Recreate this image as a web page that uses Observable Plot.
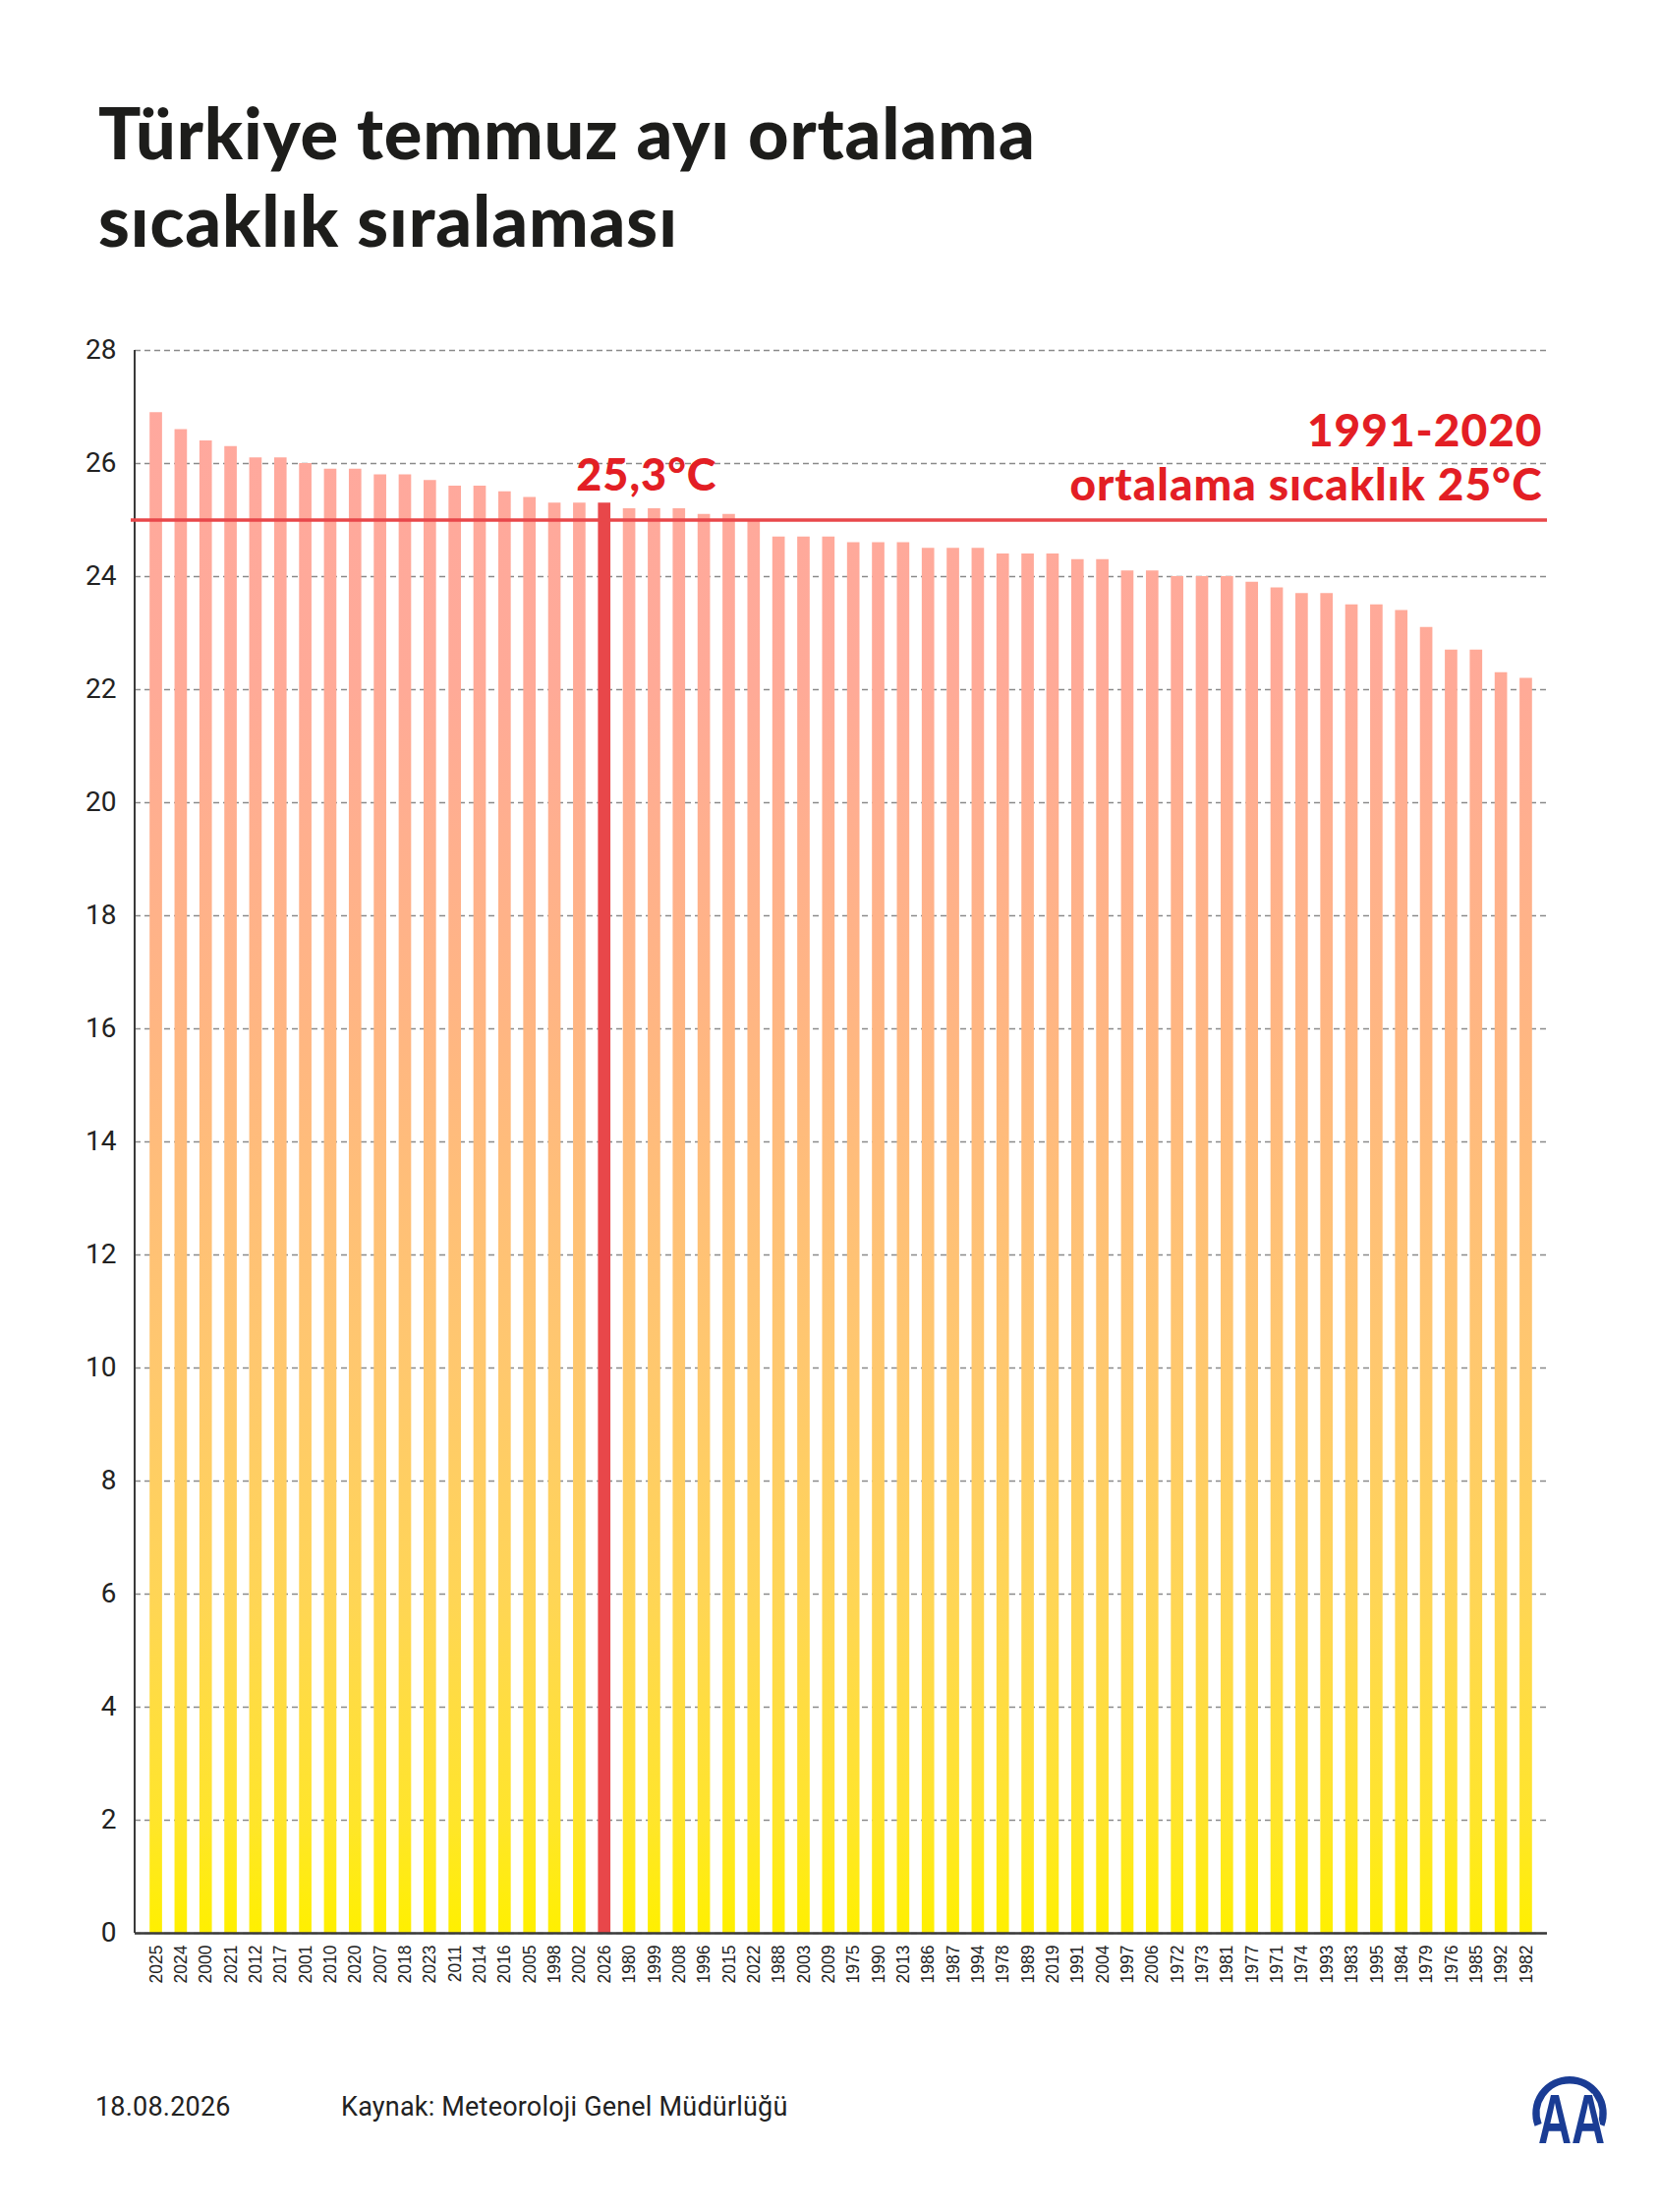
<!DOCTYPE html>
<html>
<head>
<meta charset="utf-8">
<script src="https://cdn.jsdelivr.net/npm/d3@7"></script>
<script src="https://cdn.jsdelivr.net/npm/@observablehq/plot@0.6"></script>
<style>
  html, body { margin: 0; padding: 0; background: #fff; }
  body { width: 1688px; height: 2250px; position: relative; overflow: hidden; }
  #title { position: absolute; left: 100px; top: 90px; font-family: Lato, "Open Sans", sans-serif; font-weight: 900;
           font-size: 72px; line-height: 89px; color: #1d1d1b; white-space: nowrap; letter-spacing: 0.9px; }
  #chart { position: absolute; left: 0; top: 300px; }
  .foot { position: absolute; top: 2130px; font-family: Roboto, "Liberation Sans", sans-serif; font-size: 27px;
          line-height: 26px; color: #222; white-space: nowrap; letter-spacing: 0.2px; }
  #logo { position: absolute; left: 1550px; top: 2104px; overflow: visible; }
  #chart g[aria-label="y-axis tick label"] text { font-family: Roboto, "Liberation Sans", sans-serif; font-weight: 400; }
  #chart g[aria-label="text"] text { letter-spacing: 1px; }
</style>
</head>
<body>
<div id="title">Türkiye temmuz ayı ortalama<br>sıcaklık sıralaması</div>
<div id="chart"></div>
<div class="foot" style="left:97px">18.08.2026</div>
<div class="foot" style="left:347px">Kaynak: Meteoroloji Genel Müdürlüğü</div>
<svg id="logo" width="100" height="84" viewBox="0 0 100 84">
  <path d="M 15.1 57.4 A 34 34 0 1 1 78.9 57.4" fill="none" stroke="#1A3C94" stroke-width="7.5"/>
  <text x="49" y="76" text-anchor="middle" textLength="68" lengthAdjust="spacingAndGlyphs"
        font-family="'Liberation Sans Narrow', 'Liberation Sans', Arial, sans-serif"
        font-weight="700" font-size="70" fill="#1A3C94" stroke="#fff" stroke-width="2.5" paint-order="stroke">AA</text>
</svg>
<script>
// ---- data ----
const years = ["2025","2024","2000","2021","2012","2017","2001","2010","2020","2007","2018","2023","2011","2014","2016","2005","1998","2002","2026","1980","1999","2008","1996","2015","2022","1988","2003","2009","1975","1990","2013","1986","1987","1994","1978","1989","2019","1991","2004","1997","2006","1972","1973","1981","1977","1971","1974","1993","1983","1995","1984","1979","1976","1985","1992","1982"];
const temps = [26.9,26.6,26.4,26.3,26.1,26.1,26.0,25.9,25.9,25.8,25.8,25.7,25.6,25.6,25.5,25.4,25.3,25.3,25.3,25.2,25.2,25.2,25.1,25.1,25.0,24.7,24.7,24.7,24.6,24.6,24.6,24.5,24.5,24.5,24.4,24.4,24.4,24.3,24.3,24.1,24.1,24.0,24.0,24.0,23.9,23.8,23.7,23.7,23.5,23.5,23.4,23.1,22.7,22.7,22.3,22.2];
const yTicks = [0,2,4,6,8,10,12,14,16,18,20,22,24,26,28];
const yMax = 28;
const highlightYear = "2026";
const highlightLabel = "25,3°C";
const normalValue = 25;
const normalLabel = "1991-2020\nortalama sıcaklık 25°C";
const gradValues = [0, 2, 6, 10, 16, 22, 28];
const gradColors = ["#FFF000", "#FFE52B", "#FFD556", "#FFC86E", "#FFB682", "#FFAA97", "#FFA8A0"];

const data = years.map((year, i) => ({year, temp: temps[i]}));

const NS = "http://www.w3.org/2000/svg";
function decor(index, scales, values, dims) {
  const g = document.createElementNS(NS, "g");
  const defs = document.createElementNS(NS, "defs");
  const grad = document.createElementNS(NS, "linearGradient");
  grad.setAttribute("id", "barGrad");
  grad.setAttribute("gradientUnits", "userSpaceOnUse");
  grad.setAttribute("x1", 0); grad.setAttribute("x2", 0);
  grad.setAttribute("y1", scales.y(0)); grad.setAttribute("y2", scales.y(yMax));
  gradValues.forEach((v, i) => {
    const s = document.createElementNS(NS, "stop");
    s.setAttribute("offset", v / yMax);
    s.setAttribute("stop-color", gradColors[i]);
    grad.appendChild(s);
  });
  defs.appendChild(grad);
  g.appendChild(defs);
  const line = document.createElementNS(NS, "line");
  line.setAttribute("x1", dims.marginLeft); line.setAttribute("x2", dims.marginLeft);
  line.setAttribute("y1", scales.y(yMax)); line.setAttribute("y2", scales.y(0));
  line.setAttribute("stroke", "#3a3a3a"); line.setAttribute("stroke-width", 2);
  g.appendChild(line);
  return g;
}

const plot = Plot.plot({
  width: 1688,
  height: 1760,
  marginTop: 56,
  marginBottom: 94,
  marginLeft: 137,
  marginRight: 114,
  style: {background: "transparent", overflow: "visible", fontFamily: "'Liberation Sans', Arial, sans-serif"},
  x: {domain: years, paddingInner: 0.5, paddingOuter: 0.6, round: false, label: null},
  y: {domain: [0, yMax], label: null},
  marks: [
    Plot.gridY(yTicks, {stroke: "#8a8a8a", strokeOpacity: 1, strokeDasharray: "6,4", strokeWidth: 1.3}),
    Plot.barY(data, {filter: d => d.year !== highlightYear, x: "year", y: "temp", fill: "url(#barGrad)"}),
    Plot.barY(data, {filter: d => d.year === highlightYear, x: "year", y: "temp", fill: "#E8474A"}),
    decor,
    Plot.ruleY([normalValue], {stroke: "#E8474A", strokeWidth: 3.5, insetLeft: -4}),
    Plot.ruleY([0], {stroke: "#3a3a3a", strokeWidth: 2.5}),
    Plot.text(data, {filter: d => d.year === highlightYear, x: "year", y: "temp", text: () => highlightLabel,
      textAnchor: "start", lineAnchor: "bottom", dx: -29, dy: -13, fill: "#E31E24",
      fontSize: 45, fontWeight: 900, fontFamily: "Lato, sans-serif"}),
    Plot.text([{label: normalLabel, v: normalValue}], {y: "v", text: "label", frameAnchor: "right",
      textAnchor: "end", lineAnchor: "bottom", lineHeight: 1.2, dx: -5, dy: -20, fill: "#E31E24",
      fontSize: 46, fontWeight: 900, fontFamily: "Lato, sans-serif"}),
    Plot.axisY(yTicks, {tickSize: 0, tickPadding: 19, fontSize: 28, fill: "#222", label: null, tickFormat: d => String(d)}),
    Plot.axisX({tickRotate: -90, tickSize: 0, tickPadding: 12, fontSize: 17.5, fill: "#222", label: null})
  ]
});
document.getElementById("chart").appendChild(plot);
</script>
</body>
</html>
